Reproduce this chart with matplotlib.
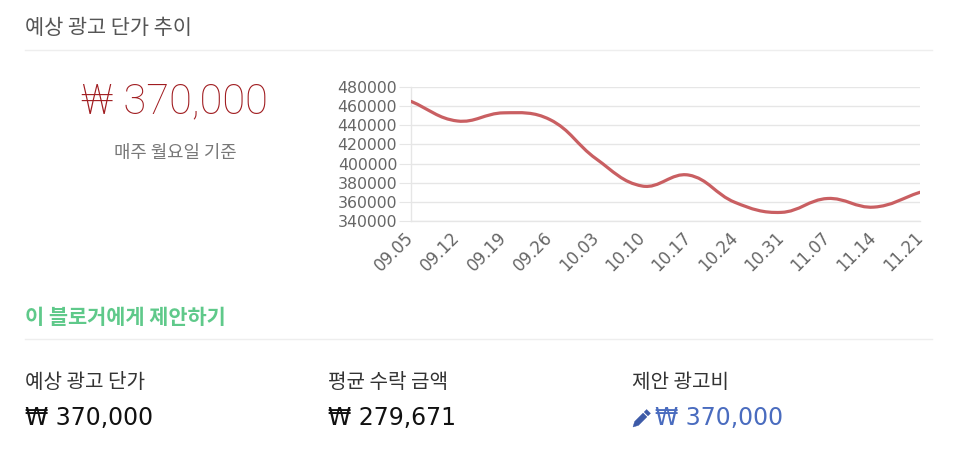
import numpy as np
import matplotlib
matplotlib.use("Agg")
import matplotlib.pyplot as plt
from matplotlib.path import Path
from matplotlib.patches import PathPatch, Polygon

plt.rcParams['font.family'] = ['Noto Sans CJK KR', 'DejaVu Sans']

# data
dates = ['09.05', '09.12', '09.19', '09.26', '10.03', '10.10',
         '10.17', '10.24', '10.31', '11.07', '11.14', '11.21']
prices = [465000, 444500, 453000, 446000, 405000, 376500,
          388000, 359500, 349000, 363500, 354500, 370000]
yticks = [340000, 360000, 380000, 400000, 420000, 440000, 460000, 480000]

title = '예상 광고 단가 추이'
big_value = '₩ 370,000'
big_note = '매주 월요일 기준'
offer_title = '이 블로거에게 제안하기'
col_labels = ['예상 광고 단가', '평균 수락 금액', '제안 광고비']
col_values = ['₩ 370,000', '₩ 279,671', '₩ 370,000']

W, H = 962, 476
fig = plt.figure(figsize=(W / 100, H / 100), dpi=100)
fig.patch.set_facecolor('white')

def px(x, y):
    return x / W, 1 - y / H

# --- chart ---
ax_l, ax_r, ax_t, ax_b = 411, 920, 87, 221
ax = fig.add_axes([ax_l / W, 1 - ax_b / H, (ax_r - ax_l) / W, (ax_b - ax_t) / H])
ax.set_xlim(0, len(dates) - 1)
ax.set_ylim(yticks[0], yticks[-1])

# chart.js style spline (tension 0.4), distances in pixel space
xs = np.arange(len(prices), dtype=float)
ys = np.array(prices, dtype=float)
sx = (ax_r - ax_l) / (len(dates) - 1)
sy = (ax_b - ax_t) / (yticks[-1] - yticks[0])
tension = 0.4
cp_prev, cp_next = [], []
for i in range(len(xs)):
    p0 = np.array([xs[max(i - 1, 0)], ys[max(i - 1, 0)]])
    p1 = np.array([xs[i], ys[i]])
    p2 = np.array([xs[min(i + 1, len(xs) - 1)], ys[min(i + 1, len(xs) - 1)]])
    d01 = np.hypot((p1[0] - p0[0]) * sx, (p1[1] - p0[1]) * sy)
    d12 = np.hypot((p2[0] - p1[0]) * sx, (p2[1] - p1[1]) * sy)
    tot = d01 + d12
    s01 = d01 / tot if tot else 0
    s12 = d12 / tot if tot else 0
    cp_prev.append(p1 - tension * s01 * (p2 - p0))
    cp_next.append(p1 + tension * s12 * (p2 - p0))

verts = [(xs[0], ys[0])]
codes = [Path.MOVETO]
for i in range(len(xs) - 1):
    verts += [tuple(cp_next[i]), tuple(cp_prev[i + 1]), (xs[i + 1], ys[i + 1])]
    codes += [Path.CURVE4] * 3
ax.add_patch(PathPatch(Path(verts, codes), facecolor='none', edgecolor='#c95f62',
                       lw=2.3, capstyle='round', joinstyle='round', zorder=3))

ax.set_yticks(yticks)
ax.set_yticklabels([str(v) for v in yticks])
ax.set_xticks(xs)
ax.set_xticklabels(dates, rotation=45, ha='right', va='center', rotation_mode='anchor')
ax.grid(axis='y', color='#e6e6e6', lw=1)
ax.set_axisbelow(True)
for s in ['top', 'right']:
    ax.spines[s].set_visible(False)
for s in ['left', 'bottom']:
    ax.spines[s].set_color('#e6e6e6')
    ax.spines[s].set_linewidth(1)
ax.tick_params(axis='y', colors='#e6e6e6', labelcolor='#666666', length=9, pad=1,
               labelsize=11.3)
ax.tick_params(axis='x', colors='#e6e6e6', labelcolor='#666666', length=0, pad=10,
               labelsize=12)
for lab in ax.get_xticklabels() + ax.get_yticklabels():
    lab.set_family('DejaVu Sans')

# --- texts ---
fig.text(*px(25, 28), title, fontsize=15, color='#555555', va='center', ha='left')
fig.add_artist(plt.Line2D([25 / W, 932 / W], [1 - 50 / H] * 2, color='#eeeeee', lw=1))

fig.text(*px(174, 102), big_value, fontsize=30, color='#a01c20', va='center',
         ha='center', family=['Roboto', 'DejaVu Sans'], weight='light')
fig.text(*px(175, 153), big_note, fontsize=12.8, color='#777777', va='center', ha='center')

fig.text(*px(25, 317), offer_title, fontsize=15, color='#5fc98a', va='center',
         ha='left', weight='bold')
fig.add_artist(plt.Line2D([25 / W, 932 / W], [1 - 339 / H] * 2, color='#eeeeee', lw=1))

# filled pencil icon, drawn in pixel coordinates
def pencil(tip_x, tip_y, color):
    d = np.array([1.0, -1.0]) / np.sqrt(2)
    n = np.array([1.0, 1.0]) / np.sqrt(2)
    tip = np.array([tip_x, tip_y])
    w = 2.7
    body = [tip, tip + 5 * d + w * n, tip + 17 * d + w * n,
            tip + 17 * d - w * n, tip + 5 * d - w * n]
    cap = [tip + 18.5 * d + w * n, tip + 22 * d + w * n,
           tip + 22 * d - w * n, tip + 18.5 * d - w * n]
    for pts in (body, cap):
        fig.add_artist(Polygon([px(*p) for p in pts], closed=True,
                               facecolor=color, edgecolor=color, lw=0.3,
                               transform=fig.transFigure))

col_x = [25, 328, 632]
for i, (lab, val) in enumerate(zip(col_labels, col_values)):
    fig.text(*px(col_x[i], 382), lab, fontsize=14.5, color='#333333', va='center', ha='left')
    if i == 2:
        pencil(col_x[i] + 1, 427, '#3d5aa8')
        fig.text(*px(col_x[i] + 23, 418), val, fontsize=17, color='#4a6cbf',
                 va='center', ha='left', family=['DejaVu Sans'])
    else:
        fig.text(*px(col_x[i], 418), val, fontsize=17, color='#111111',
                 va='center', ha='left', family=['DejaVu Sans'])

fig.savefig('out.png', dpi=100, facecolor='white')
